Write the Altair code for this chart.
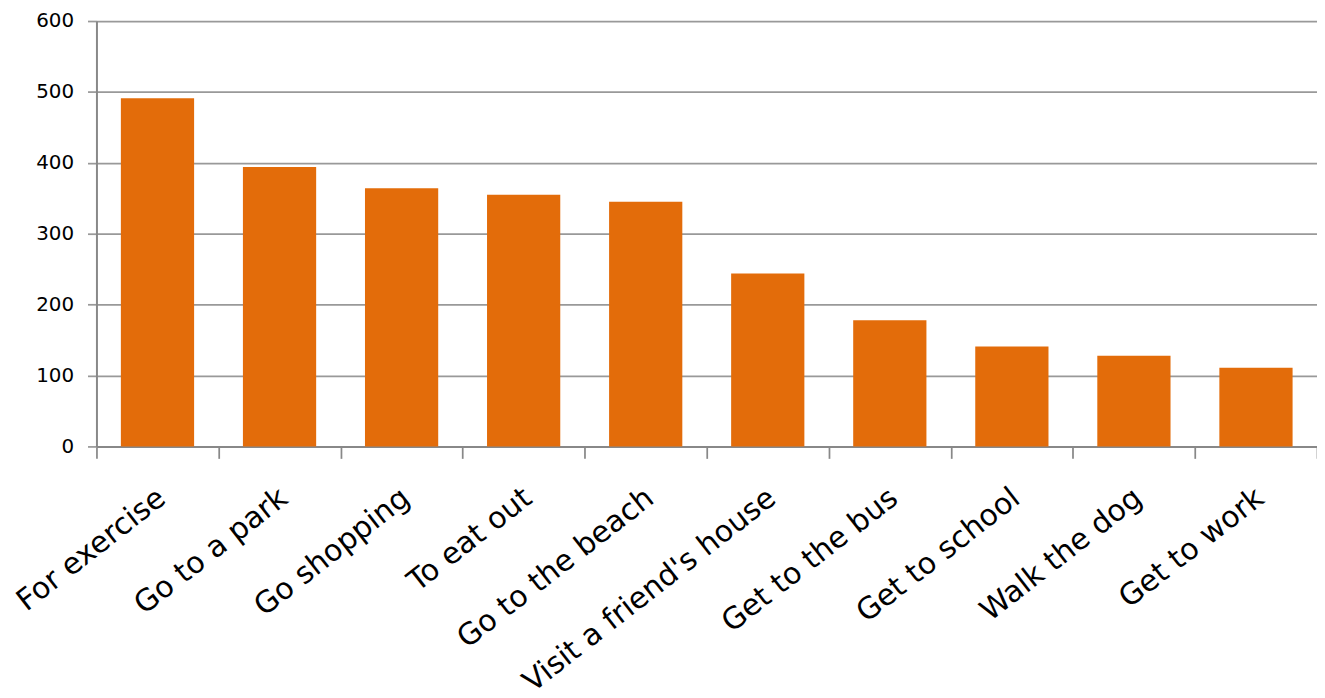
import altair as alt
import pandas as pd

categories = ["For exercise", "Go to a park", "Go shopping", "To eat out", "Go to the beach",
              "Visit a friend's house", "Get to the bus", "Get to school", "Walk the dog", "Get to work"]
values = [491, 394, 364, 355, 345, 244, 178, 141, 128, 111]
y_ticks = [0, 100, 200, 300, 400, 500, 600]

df = pd.DataFrame({"category": categories, "value": values})

chart = alt.Chart(df).mark_bar(color="#E36C0A", width={"band": 0.6}).encode(
    x=alt.X("category:N", sort=categories, title=None,
            scale=alt.Scale(paddingInner=0, paddingOuter=0),
            axis=alt.Axis(labelAngle=-38, labelAlign="right", labelBaseline="middle",
                          labelFontSize=30, labelFont="DejaVu Sans", labelColor="#000000",
                          labelOffset=4, labelPadding=36, labelLimit=0, tickBand="extent",
                          tickSize=12, tickColor="#888888", tickWidth=1.75,
                          domainColor="#888888", domainWidth=2, grid=False,
                          labelOverlap=False)),
    y=alt.Y("value:Q", title=None,
            scale=alt.Scale(domain=[0, 600], nice=False),
            axis=alt.Axis(values=y_ticks, labelFontSize=20, labelFont="DejaVu Sans",
                          labelColor="#000000", labelPadding=14, tickSize=9,
                          tickColor="#999999", tickWidth=1.75, domainColor="#888888",
                          domainWidth=2, gridColor="#999999", gridWidth=1.75)),
).properties(
    width=1228, height=428,
    autosize=alt.AutoSizeParams(type="none"),
    padding={"left": 89, "top": 11, "right": 0, "bottom": 248},
).configure_view(stroke=None)

chart.save("out.html", embed_options={"renderer": "svg", "actions": False})
